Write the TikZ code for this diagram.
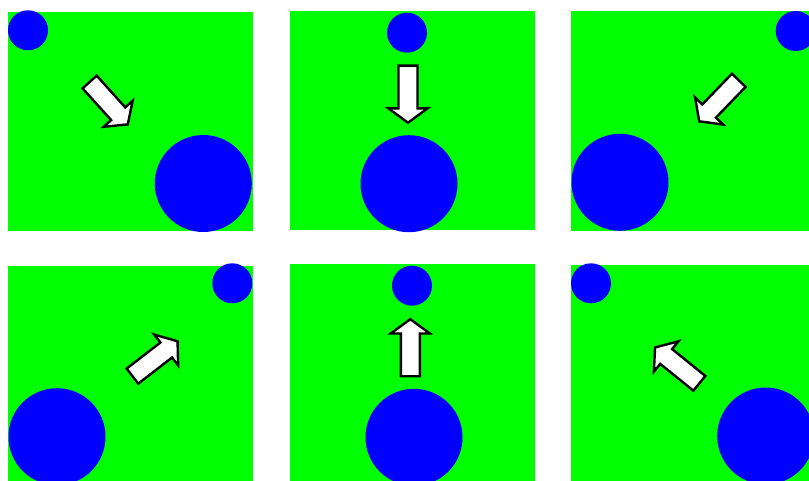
\documentclass[tikz,border=0pt]{standalone}
\usepackage{tikz}
\tikzstyle{panel}=[fill=green, draw=none]
\tikzstyle{dot}=[fill=blue, draw=none]
\tikzstyle{fatarrow}=[fill=white, draw=black, line width=2.4pt, line join=miter]

% one white block arrow: centre x, centre y, angle
\newcommand{\blockarrow}[3]{%
  \draw[fatarrow, shift={(#1,#2)}, rotate=#3]
    (-28.5,-9.5) -- (14.2,-9.5) -- (14.2,-19.5) -- (28.5,0)
    -- (14.2,19.5) -- (14.2,9.5) -- (-28.5,9.5) -- cycle;
}

\begin{document}
\begin{tikzpicture}[x=1pt, y=1pt]

\clip (0,0) rectangle (809,480);
\fill[white] (0,0) rectangle (809,480);

% Top row: towards the large disc
\fill[panel] (8,249) rectangle (253,468);
\fill[dot] (28,449.7) circle (20);
\fill[dot] (203.3,296.5) circle (48.5);
\blockarrow{108.7}{376.8}{-48}

\fill[panel] (290,250) rectangle (535,469);
\fill[dot] (407,447.3) circle (20);
\fill[dot] (409,296.3) circle (48.5);
\blockarrow{408}{385.8}{-90}

\fill[panel] (571,249) rectangle (815,469);
\fill[dot] (795.7,449) circle (20);
\fill[dot] (620,297.7) circle (48.5);
\blockarrow{719}{379.2}{-134}

% Bottom row: towards the small disc
\fill[panel] (8,-5) rectangle (253,214.3);
\fill[dot] (232.3,196.7) circle (20);
\fill[dot] (57,43.3) circle (48.5);
\blockarrow{155}{121.3}{37.7}

\fill[panel] (290,-5) rectangle (535,215.7);
\fill[dot] (412,194.3) circle (20);
\fill[dot] (414,42.7) circle (48.5);
\blockarrow{410.3}{132.3}{90}

\fill[panel] (571,-5) rectangle (815,215);
\fill[dot] (591,196.7) circle (20);
\fill[dot] (765.7,44) circle (48.5);
\blockarrow{677.2}{114.6}{141}

\end{tikzpicture}
\end{document}
